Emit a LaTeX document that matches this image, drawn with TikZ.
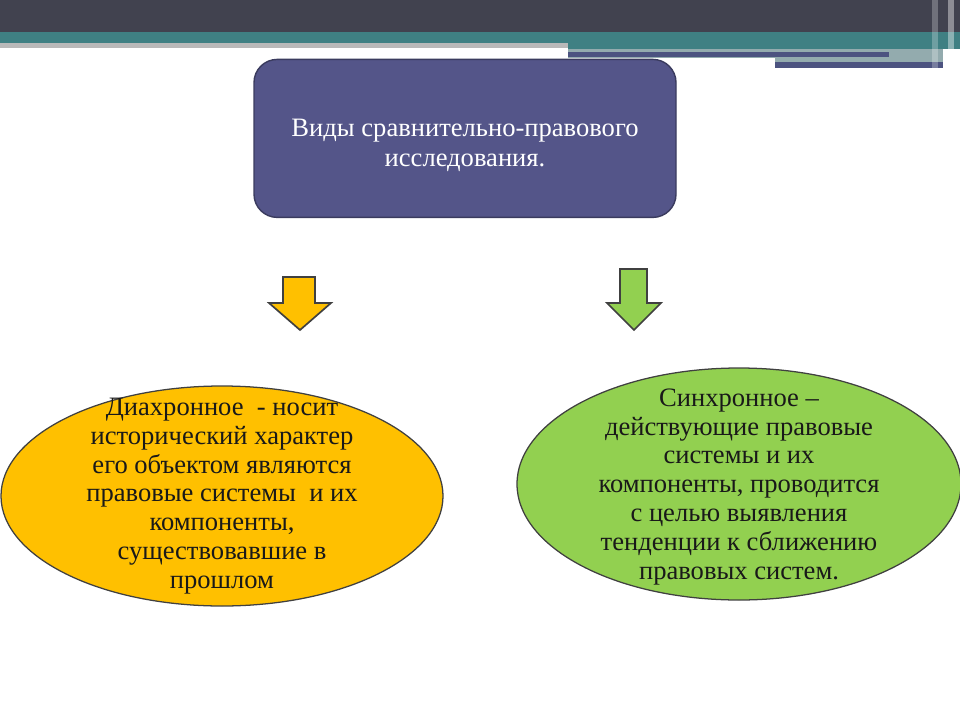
\documentclass[tikz,border=0pt]{standalone}
\usepackage{fontspec}
\setmainfont{Liberation Serif}
\usetikzlibrary{shapes.geometric}
\definecolor{barDark}{HTML}{41424F}
\definecolor{barTeal}{HTML}{3F8083}
\definecolor{barPale}{HTML}{93ABAE}
\definecolor{barLine}{HTML}{4C5380}
\definecolor{boxBlue}{HTML}{545589}
\definecolor{boxEdge}{HTML}{3A3B5E}
\definecolor{amber}{HTML}{FFC000}
\definecolor{leaf}{HTML}{92D050}
\definecolor{edgeGrey}{HTML}{404040}
\begin{document}
\begin{tikzpicture}[
      txt/.style={font=\fontsize{18.9}{20.5}\selectfont,align=center,text=black!90},
      oval/.style={ellipse,draw=edgeGrey,line width=0.9pt,inner sep=0pt},
      blockarrow/.style={draw=edgeGrey,line width=1.2pt,line join=miter}]
      \useasboundingbox (0,0) rectangle (24,18);
      \fill[barDark] (0,18) rectangle (24,17.2);
      \fill[barTeal] (0,17.2) rectangle (14.2,16.925);
      \fill[gray!55] (0,16.925) rectangle (14.2,16.8);
      \fill[barTeal] (14.2,17.2) rectangle (24,16.775);
      \fill[barPale] (14.2,16.775) rectangle (23.575,16.55);
      \fill[barPale] (19.375,16.55) rectangle (23.575,16.3);
      \fill[barLine] (14.2,16.7) rectangle (22.225,16.575);
      \fill[barLine] (19.375,16.45) rectangle (23.575,16.3);
      \fill[white,opacity=0.25] (23.3,18) rectangle (23.45,16.3);
      \fill[white,opacity=0.4] (23.7,18) rectangle (23.85,16.3);
      \node[draw=boxEdge,fill=boxBlue,line width=1pt,rounded corners=0.58cm,
            minimum width=10.55cm,minimum height=3.95cm] (kinds)
            at (11.625,14.54) {};
      \node[txt,font=\fontsize{18.9}{21.3}\selectfont,text=white]
            at ([yshift=-0.18cm]kinds) {Виды сравнительно-правового\\исследования.};
      \draw[blockarrow,fill=amber] (7.075,11.075)--(7.875,11.075)--(7.875,10.425)
            --(8.275,10.425)--(7.5,9.75)--(6.725,10.425)--(7.075,10.425)--cycle;
      \draw[blockarrow,fill=leaf] (15.5,11.275)--(16.175,11.275)--(16.175,10.425)
            --(16.525,10.425)--(15.85,9.75)--(15.175,10.425)--(15.5,10.425)--cycle;
      \node[oval,fill=amber,minimum width=11.05cm,minimum height=5.5cm] (diachr)
            at (5.55,5.6) {};
      \node[txt] at (diachr) {Диахронное\ \ - носит\\исторический характер\\
            его объектом являются\\правовые системы\ \ и их\\компоненты,\\
            существовавшие в\\прошлом};
      \node[oval,fill=leaf,minimum width=11.1cm,minimum height=5.8cm] (synchr)
            at (18.475,5.9) {};
      \node[txt] at ([yshift=-0.07cm]synchr) {Синхронное --\\действующие правовые\\
            системы и их\\компоненты, проводится\\с целью выявления\\
            тенденции к сближению\\правовых систем.};
\end{tikzpicture}
\end{document}
